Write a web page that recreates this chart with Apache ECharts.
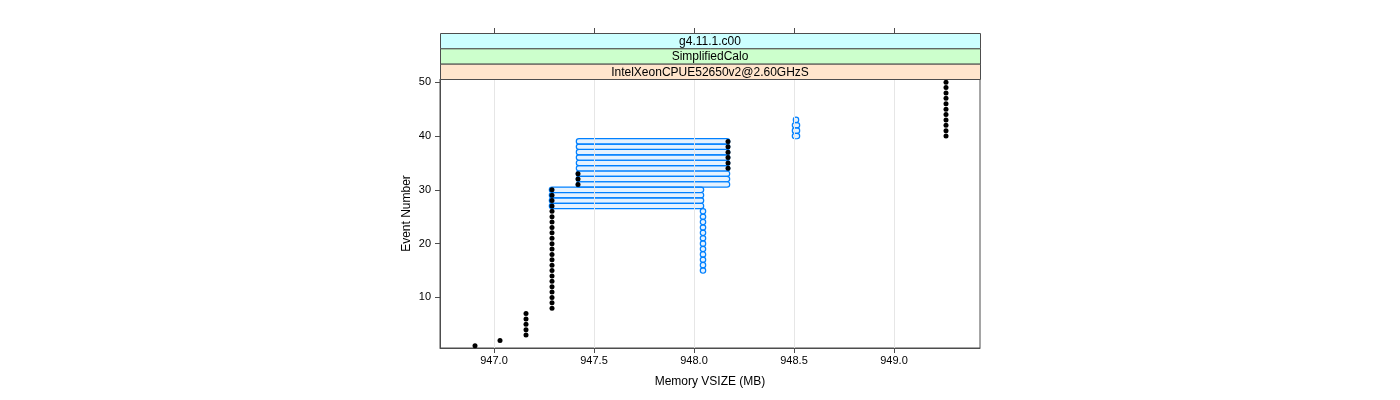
<!DOCTYPE html>
<html><head><meta charset="utf-8">
<script src="https://cdn.jsdelivr.net/npm/echarts@6/dist/echarts.min.js"></script>
<style>html,body{margin:0;padding:0;background:#fff}#c{width:1400px;height:400px}</style>
</head><body><div id="c"></div>
<script>
// ---- data ----
const xTicks = [947.0, 947.5, 948.0, 948.5, 949.0];
const yTicks = [10, 20, 30, 40, 50];
const stripLabels = ['g4.11.1.c00', 'SimplifiedCalo', 'IntelXeonCPUE52650v2@2.60GHzS'];
const stripColors = ['#CCFFFF', '#CCFFCC', '#FFE5CC'];

// black series: one point per event
const blackEvents = [1,2,3,4,5,6,7,8,9,10,11,12,13,14,15,16,17,18,19,20,21,22,23,24,25,
  26,27,28,29,30,31,32,33,34,35,36,37,38,39,40,41,42,43,44,45,46,47,48,49,50];
const blackVsize = [946.905, 947.03,
  947.16, 947.16, 947.16, 947.16, 947.16,
  947.29, 947.29, 947.29, 947.29, 947.29, 947.29, 947.29, 947.29, 947.29, 947.29,
  947.29, 947.29, 947.29, 947.29, 947.29, 947.29, 947.29, 947.29, 947.29, 947.29,
  947.29, 947.29, 947.29,
  947.42, 947.42, 947.42,
  948.17, 948.17, 948.17, 948.17, 948.17, 948.17,
  949.26, 949.26, 949.26, 949.26, 949.26, 949.26, 949.26, 949.26, 949.26, 949.26, 949.26];

// blue series: range of VSIZE samples per event (start == end for a single sample)
const blueEvents = [15,16,17,18,19,20,21,22,23,24,25,26,27,28,29,30,31,32,33,34,35,36,37,38,39,40,41,42,43];
const blueStart = [948.045, 948.045, 948.045, 948.045, 948.045, 948.045, 948.045, 948.045, 948.045, 948.045, 948.045, 948.045,
  947.29, 947.29, 947.29, 947.29,
  947.425, 947.425, 947.425, 947.425, 947.425, 947.425, 947.425, 947.425, 947.425,
  948.505, 948.505, 948.505, 948.51];
const blueEnd = [948.045, 948.045, 948.045, 948.045, 948.045, 948.045, 948.045, 948.045, 948.045, 948.045, 948.045, 948.045,
  948.035, 948.035, 948.035, 948.035,
  948.165, 948.165, 948.165, 948.165, 948.165, 948.165, 948.165, 948.165, 948.165,
  948.515, 948.515, 948.515, 948.51];

// ---- layout ----
const G = {left: 440, top: 79, width: 540, height: 269};
const stripTop = 33, stripH = (G.top - stripTop) / 3;
const FONT = 'Liberation Sans, Arial, Helvetica, sans-serif';

const blackData = blackEvents.map((e, i) => [blackVsize[i], e]);
const blueData = blueEvents.map((e, i) => [e, blueStart[i], blueEnd[i]]);

const graphics = [];
stripLabels.forEach((t, i) => {
  graphics.push({
    type: 'rect', z: 10,
    shape: {x: G.left + 0.5, y: stripTop + i * stripH + 0.5, width: G.width, height: stripH},
    style: {fill: stripColors[i], stroke: '#4d4d4d', lineWidth: 1}
  });
  graphics.push({
    type: 'text', z: 11,
    x: G.left + G.width / 2, y: stripTop + i * stripH + stripH / 2 + 1,
    style: {text: t, fill: '#000', font: '12px ' + FONT, align: 'center', verticalAlign: 'middle'}
  });
});

const chart = echarts.init(document.getElementById('c'), null, {renderer: 'canvas'});
chart.setOption({
  animation: false,
  backgroundColor: '#fff',
  grid: {left: G.left, top: G.top, width: G.width, height: G.height, show: true,
    borderColor: '#4d4d4d', borderWidth: 1, backgroundColor: 'transparent'},
  xAxis: [{
    type: 'value', min: 946.73, max: 949.43, position: 'bottom',
    name: 'Memory VSIZE (MB)', nameLocation: 'middle', nameGap: 28,
    nameTextStyle: {fontFamily: FONT, fontSize: 12, color: '#000'},
    axisLine: {show: true, lineStyle: {color: '#4d4d4d'}},
    axisTick: {show: true, inside: false, length: 5, customValues: xTicks, lineStyle: {color: '#4d4d4d'}},
    axisLabel: {show: true, customValues: xTicks, margin: 7, fontFamily: FONT, fontSize: 11, color: '#000',
      formatter: v => v.toFixed(1)},
    splitLine: {show: false}
  }, {
    type: 'value', min: 946.73, max: 949.43, position: 'top', offset: G.top - stripTop,
    axisLine: {show: false},
    axisTick: {show: true, inside: false, length: 5, customValues: xTicks, lineStyle: {color: '#4d4d4d'}},
    axisLabel: {show: false},
    splitLine: {show: false}
  }],
  yAxis: {
    type: 'value', min: 0.6, max: 50.6,
    name: 'Event Number', nameLocation: 'middle', nameGap: 27,
    nameTextStyle: {fontFamily: FONT, fontSize: 12, color: '#000'},
    axisLine: {show: true, lineStyle: {color: '#4d4d4d'}},
    axisTick: {show: true, inside: false, length: 5, customValues: yTicks, lineStyle: {color: '#4d4d4d'}},
    axisLabel: {show: true, customValues: yTicks, margin: 9, fontFamily: FONT, fontSize: 11, color: '#000'},
    splitLine: {show: false}
  },
  graphic: graphics,
  series: [{
    type: 'scatter', data: [], z: 1, silent: true,
    markLine: {
      silent: true, symbol: 'none', animation: false,
      label: {show: false},
      lineStyle: {color: '#e6e6e6', type: 'solid', width: 1},
      data: xTicks.map(v => ({xAxis: v}))
    }
  }, {
    type: 'custom', z: 3, silent: true,
    encode: {x: [1, 2], y: 0},
    data: blueData,
    renderItem: function (params, api) {
      const ev = api.value(0), s = api.value(1), e = api.value(2);
      const p1 = api.coord([s, ev]), p2 = api.coord([e, ev]);
      const r = 2.7;
      return {
        type: 'rect',
        shape: {x: p1[0] - r, y: p1[1] - r, width: p2[0] - p1[0] + 2 * r, height: 2 * r, r: r},
        style: {fill: 'rgba(0,128,255,0.10)', stroke: '#0080ff', lineWidth: 1.2}
      };
    }
  }, {
    type: 'scatter', z: 5, silent: true,
    data: blackData, symbol: 'circle', symbolSize: 5,
    itemStyle: {color: '#000', opacity: 1}
  }]
});
</script></body></html>
